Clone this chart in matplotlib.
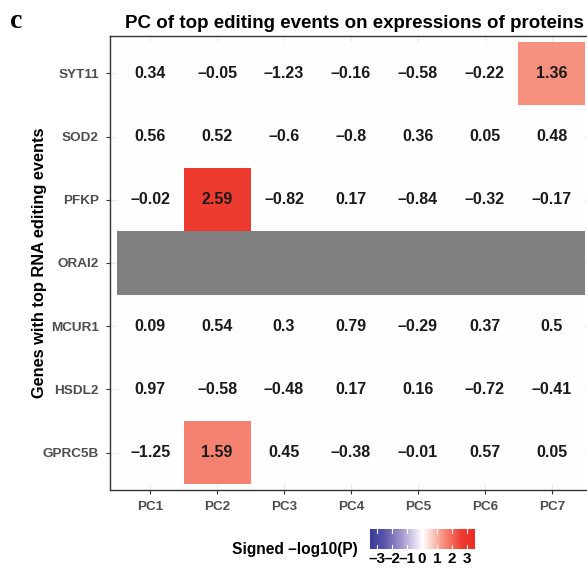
import numpy as np
import matplotlib
matplotlib.use("Agg")
import matplotlib.pyplot as plt
from matplotlib.colors import LinearSegmentedColormap, Normalize

plt.rcParams['font.family'] = ['Liberation Sans', 'DejaVu Sans']

genes = ['SYT11', 'SOD2', 'PFKP', 'ORAI2', 'MCUR1', 'HSDL2', 'GPRC5B']
pcs = ['PC1', 'PC2', 'PC3', 'PC4', 'PC5', 'PC6', 'PC7']

# signed -log10(P), one row per gene; ORAI2 has no result
signed_logp = np.array([
    [0.34, -0.05, -1.23, -0.16, -0.58, -0.22, 1.36],
    [0.56, 0.52, -0.6, -0.8, 0.36, 0.05, 0.48],
    [-0.02, 2.59, -0.82, 0.17, -0.84, -0.32, -0.17],
    [np.nan] * 7,
    [0.09, 0.54, 0.3, 0.79, -0.29, 0.37, 0.5],
    [0.97, -0.58, -0.48, 0.17, 0.16, -0.72, -0.41],
    [-1.25, 1.59, 0.45, -0.38, -0.01, 0.57, 0.05],
])
cut = -np.log10(0.05)
lim = 3.47

# only significant cells get a fill colour
fill = np.where(np.abs(signed_logp) > cut, signed_logp, 0.0)

cmap = LinearSegmentedColormap.from_list('bwr_custom', [
    (0.0, '#3B3B98'),
    (0.125, '#5552A8'),
    (0.31, '#A89ACF'),
    (0.5, '#FFFFFF'),
    (0.697, '#F69280'),
    (0.875, '#EE3B2F'),
    (1.0, '#EB2A24'),
])
cmap.set_bad('#7F7F7F')
norm = Normalize(-lim, lim)

fig = plt.figure(figsize=(5.87, 5.71), dpi=100)
ax = fig.add_axes([0.1874, 0.1419, 0.821, 0.7951])

nr, nc = signed_logp.shape
for i in range(nr):
    for j in range(nc):
        v = signed_logp[i, j]
        if np.isnan(v):
            color = '#7F7F7F'
        else:
            color = cmap(norm(fill[i, j]))
        ax.add_patch(plt.Rectangle((j - 0.5, i - 0.5), 1, 1, facecolor=color,
                                   edgecolor='none', zorder=2))
        if not np.isnan(v):
            txt = ('%g' % v).replace('-', '\u2013')
            ax.text(j, i, txt, ha='center', va='center', fontsize=11.5,
                    fontweight='bold', color='#1a1a1a', zorder=3)

ax.set_xlim(-0.6, nc - 0.4)
ax.set_ylim(nr - 0.41, -0.59)
ax.set_xticks(range(nc))
ax.set_xticklabels(pcs)
ax.set_yticks(range(nr))
ax.set_yticklabels(genes)
ax.tick_params(length=3, color='#333333', labelcolor='#4D4D4D', labelsize=9.7, pad=5)
for lab in ax.get_xticklabels() + ax.get_yticklabels():
    lab.set_fontweight('bold')
ax.grid(True, color='#EBEBEB', linewidth=0.8, zorder=1)
ax.set_axisbelow(True)
for s in ax.spines.values():
    s.set_color('#333333')
    s.set_linewidth(1.0)

ax.set_title('PC of top editing events on expressions of proteins', fontsize=13.5,
             fontweight='bold', x=0.508, pad=6)
ax.set_ylabel('Genes with top RNA editing events', fontsize=11.8, fontweight='bold',
              labelpad=-3)

fig.text(0.017, 0.962, 'c', family='Liberation Serif', fontsize=20, fontweight='bold',
         va='center', ha='left')

# colour bar
cax = fig.add_axes([0.6303, 0.0385, 0.1772, 0.035])
grad = np.linspace(-lim, lim, 256).reshape(1, -1)
cax.imshow(grad, aspect='auto', cmap=cmap, norm=norm, extent=(-lim, lim, 0, 1))
cax.set_xlim(-lim, lim)
cax.set_ylim(0, 1)
cb_ticks = [-3, -2, -1, 0, 1, 2, 3]
for t in cb_ticks:
    cax.plot([t, t], [0, 0.2], color='white', lw=0.8)
    cax.plot([t, t], [0.8, 1], color='white', lw=0.8)
cax.set_yticks([])
cax.set_xticks(cb_ticks)
cax.set_xticklabels([('%d' % t).replace('-', '\u2013') for t in cb_ticks])
cax.tick_params(length=0, labelsize=11, pad=2, labelcolor='black')
for lab in cax.get_xticklabels():
    lab.set_fontweight('bold')
for s in cax.spines.values():
    s.set_visible(False)
fig.text(0.61, 0.038, 'Signed \u2013log10(P)', ha='right', va='center', fontsize=11.2,
         fontweight='bold')

fig.savefig('out.png', dpi=100)
